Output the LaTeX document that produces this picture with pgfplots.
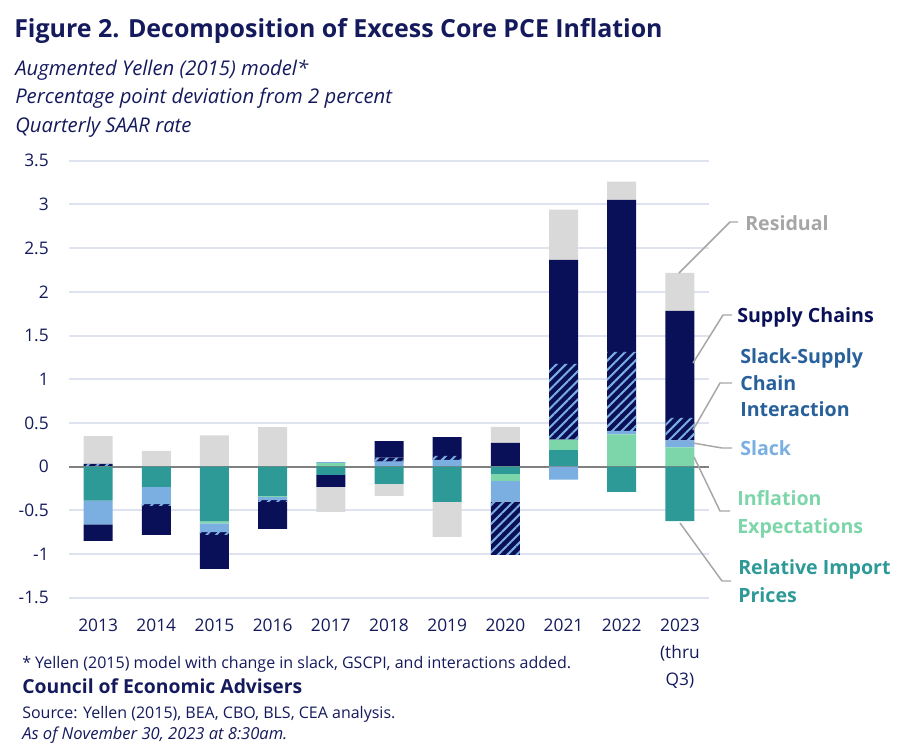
\documentclass[border=0pt]{standalone}
\usepackage{pgfplots}
\pgfplotsset{compat=1.18}
\usepackage{pgfplotstable}
\usepackage{fontspec}
\setmainfont{Open Sans}
\usetikzlibrary{patterns.meta}
\definecolor{navy}{HTML}{0A1057}
\definecolor{titlenavy}{HTML}{141A5C}
\definecolor{lblue}{HTML}{7BAFE1}
\definecolor{mint}{HTML}{7DD6A9}
\definecolor{teal2}{HTML}{2E9A98}
\definecolor{resid}{HTML}{D9D9D9}
\definecolor{residtxt}{HTML}{A6A6A6}
\definecolor{inttxt}{HTML}{27609A}
\definecolor{gridc}{HTML}{DFE3F0}
\definecolor{zeroc}{HTML}{808080}
\definecolor{leader}{HTML}{A6A6A6}

% positive parts, years 2013..2023 at x = 0..10
\pgfplotstableread{
x imp   exp   slack  inter  supply resid
0 0     0     0      0.03   0      0.32
1 0     0     0      0      0      0.18
2 0     0     0      0      0      0.357
3 0     0     0      0      0      0.452
4 0     0.04  0.01   0      0      0
5 0     0     0.057  0.046  0.19   0
6 0     0     0.076  0.046  0.216  0
7 0     0     0      0      0.271  0.183
8 0.19  0.12  0      0.866  1.19   0.574
9 0     0.37  0.04   0.903  1.74   0.207
10 0    0.22  0.08   0.257  1.225  0.436
}\postab
% negative parts
\pgfplotstableread{
x imp    exp    slack  inter  supply resid
0 -0.39  0      -0.27  0      -0.19  0
1 -0.232 0      -0.198 -0.02  -0.33  0
2 -0.627 -0.023 -0.10  -0.03  -0.39  0
3 -0.335 -0.011 -0.038 -0.019 -0.308 0
4 -0.095 0      0      0      -0.137 -0.285
5 -0.198 0      0      0      0      -0.137
6 -0.403 0      0      0      0      -0.40
7 -0.084 -0.08  -0.237 -0.61  0      0
8 0      0      -0.148 0      0      0
9 -0.29  0      0      0      0      0
10 -0.625 0     0      0      0      0
}\negtab

\pgfplotsset{
  common/.style={
    at={(51.75pt,-448.275pt)}, anchor=south west,
    scale only axis, width=480pt, height=327.75pt,
    xmin=-0.5, xmax=10.5, ymin=-1.5, ymax=3.5,
    ybar stacked, bar width=21.75pt,
    axis line style={draw=none},
    every axis plot/.append style={draw=none},
    clip=false,
  },
  hatchstyle/.style={fill=navy, postaction={pattern={Lines[angle=45,distance=5pt,line width=1.5pt]}, pattern color=lblue}},
}

\begin{document}
\begin{tikzpicture}
\useasboundingbox (0,0) rectangle (675pt,-563.25pt);

\begin{axis}[common,
  ytick={-1.5,-1,...,3.5},
  yticklabels={-1.5,-1,-0.5,0,0.5,1,1.5,2,2.5,3,3.5},
  ymajorgrids, grid style={gridc, line width=1.5pt},
  major tick length=0pt,
  yticklabel style={font=\fontsize{13}{15}\selectfont, color=titlenavy, inner sep=0pt, xshift=-15pt},
  xtick={0,...,10},
  xticklabels={2013,2014,2015,2016,2017,2018,2019,2020,2021,2022,{2023\\(thru\\Q3)}},
  xticklabel style={font=\fontsize{13}{20}\selectfont, color=titlenavy, inner sep=0pt, anchor=north, yshift=-16pt, align=center},
]
\addplot[fill=teal2] table[x=x,y=imp]{\postab};
\addplot[fill=mint] table[x=x,y=exp]{\postab};
\addplot[fill=lblue] table[x=x,y=slack]{\postab};
\addplot[hatchstyle] table[x=x,y=inter]{\postab};
\addplot[fill=navy] table[x=x,y=supply]{\postab};
\addplot[fill=resid] table[x=x,y=resid]{\postab};
\end{axis}

\begin{axis}[common, ticks=none]
\addplot[fill=teal2] table[x=x,y=imp]{\negtab};
\addplot[fill=mint] table[x=x,y=exp]{\negtab};
\addplot[fill=lblue] table[x=x,y=slack]{\negtab};
\addplot[hatchstyle] table[x=x,y=inter]{\negtab};
\addplot[fill=navy] table[x=x,y=supply]{\negtab};
\addplot[fill=resid] table[x=x,y=resid]{\negtab};
\draw[zeroc, line width=1.6pt] (axis cs:-0.5,0) -- (axis cs:10.5,0);
\end{axis}

\begin{scope}[x=0.75pt,y=-0.75pt]
% title and subtitles
\node[anchor=base west, inner sep=0pt, text=titlenavy, font=\fontsize{18.7}{22}\selectfont\bfseries] at (14,37) {Figure 2. Decomposition of Excess Core PCE Inflation};
\node[anchor=base west, inner sep=0pt, text=titlenavy, font=\fontsize{15.2}{17}\selectfont\itshape] at (15,75) {Augmented Yellen (2015) model*};
\node[anchor=base west, inner sep=0pt, text=titlenavy, font=\fontsize{15.2}{17}\selectfont\itshape] at (15,103) {Percentage point deviation from 2 percent};
\node[anchor=base west, inner sep=0pt, text=titlenavy, font=\fontsize{15.2}{17}\selectfont\itshape] at (15,132) {Quarterly SAAR rate};
% footnotes
\node[anchor=base west, inner sep=0pt, text=titlenavy, font=\fontsize{12}{14}\selectfont] at (22,668) {* Yellen (2015) model with change in slack, GSCPI, and interactions added.};
\node[anchor=base west, inner sep=0pt, text=titlenavy, font=\fontsize{14.5}{17}\selectfont\bfseries] at (22,693) {Council of Economic Advisers};
\node[anchor=base west, inner sep=0pt, text=titlenavy, font=\fontsize{12}{14}\selectfont] at (22,718) {Source: Yellen (2015), BEA, CBO, BLS, CEA analysis.};
\node[anchor=base west, inner sep=0pt, text=titlenavy, font=\fontsize{12.4}{14}\selectfont\itshape] at (22,739) {As of November 30, 2023 at 8:30am.};
% leaders
\begin{scope}[leader, line width=1.1pt]
\draw (679,273) -- (730,222) -- (738,222);
\draw (693,363) -- (723,315) -- (732,315);
\draw (693,430) -- (720,383) -- (732,383);
\draw (693,443) -- (722,448) -- (732,448);
\draw (694,457) -- (720,511) -- (730,511);
\draw (680,523) -- (722,581) -- (731,581);
\end{scope}
% labels
\begin{scope}[every node/.style={anchor=base west, inner sep=0pt, font=\fontsize{14.7}{16}\selectfont\bfseries}]
\node[text=residtxt] at (745,230) {Residual};
\node[text=navy] at (737,322) {Supply Chains};
\node[text=inttxt] at (740,363) {Slack-Supply};
\node[text=inttxt] at (740,390) {Chain};
\node[text=inttxt] at (740,416) {Interaction};
\node[text=lblue] at (740,455) {Slack};
\node[text=mint] at (737,505) {Inflation};
\node[text=mint] at (737,533) {Expectations};
\node[text=teal2] at (738,574) {Relative Import};
\node[text=teal2] at (738,602) {Prices};
\end{scope}
\end{scope}
\end{tikzpicture}
\end{document}
